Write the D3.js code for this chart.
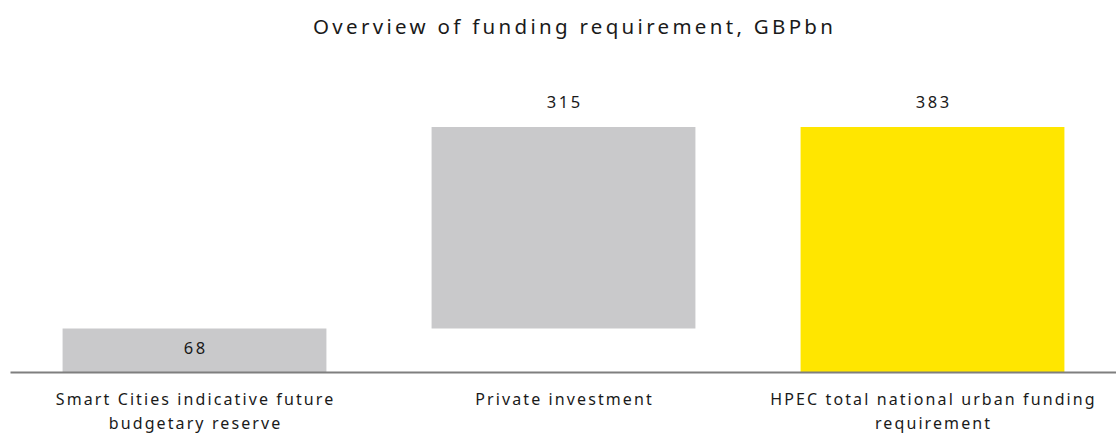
<!DOCTYPE html>
<html>
<head>
<meta charset="utf-8">
<script src="https://cdn.jsdelivr.net/npm/d3@7"></script>
<style>
  html, body { margin: 0; padding: 0; background: #fff; }
  svg { display: block; font-family: "Noto Sans", "Open Sans", sans-serif; }
</style>
</head>
<body>
<svg id="chart" width="1116" height="437"></svg>
<script>
// Waterfall: two contributions stacking up to the total requirement
const categories = [
  "Smart Cities indicative future\nbudgetary reserve",
  "Private investment",
  "HPEC total national urban funding\nrequirement"
];
const values = [68, 315, 383];
const kinds = ["step", "step", "total"];

const colors = { step: "#c9c9cb", total: "#ffe600" };
const textColor = "#1a1a1a";

const svg = d3.select("#chart");
const baseY = 372, topY = 127;

// Running totals for floating bars
let running = 0;
const bars = categories.map((c, i) => {
  let start, end;
  if (kinds[i] === "total") { start = 0; end = values[i]; running = values[i]; }
  else { start = running; end = running + values[i]; running = end; }
  return { cat: c, value: values[i], kind: kinds[i], start, end };
});

const x = d3.scaleBand().domain(categories).range([10, 1117]).paddingInner(0.285).paddingOuter(0.1425);
const y = d3.scaleLinear().domain([0, d3.max(bars, d => d.end)]).range([baseY, topY]);

// Title
const titleSpacing = 3.3;
svg.append("text")
  .attr("x", 573 + titleSpacing / 2).attr("y", 34)
  .attr("text-anchor", "middle")
  .attr("font-size", 20.5)
  .attr("letter-spacing", titleSpacing)
  .attr("fill", textColor)
  .text("Overview of funding requirement, GBPbn");

// Bars
svg.append("g").selectAll("rect").data(bars).join("rect")
  .attr("x", d => x(d.cat))
  .attr("width", x.bandwidth())
  .attr("y", d => y(d.end))
  .attr("height", d => y(d.start) - y(d.end))
  .attr("fill", d => colors[d.kind]);

// Value labels: inside the short first bar, above the others
const valSpacing = 2.6;
svg.append("g").selectAll("text").data(bars).join("text")
  .attr("x", d => x(d.cat) + x.bandwidth() / 2 + valSpacing / 2)
  .attr("y", (d, i) => i === 0 ? (y(d.start) + y(d.end)) / 2 + 4 : y(d.end) - 19)
  .attr("text-anchor", "middle")
  .attr("font-size", 16.5)
  .attr("letter-spacing", valSpacing)
  .attr("fill", textColor)
  .text(d => d.value);

// Category axis along the baseline
const labSpacing = 2.1;
const axis = svg.append("g")
  .attr("transform", `translate(0,${baseY})`)
  .call(d3.axisBottom(x).tickSize(0).tickSizeOuter(0).tickPadding(0));
axis.select(".domain").attr("stroke", "#7f7f7f").attr("stroke-width", 2);
axis.selectAll(".tick text").each(function(d) {
  const t = d3.select(this);
  t.text(null).attr("dy", null).attr("font-size", 16).attr("fill", textColor)
    .attr("letter-spacing", labSpacing)
    .attr("font-family", "Noto Sans, Open Sans, sans-serif");
  d.split("\n").forEach((line, k) => {
    t.append("tspan").attr("x", labSpacing / 2).attr("y", 33 + k * 24).text(line);
  });
});
</script>
</body>
</html>
